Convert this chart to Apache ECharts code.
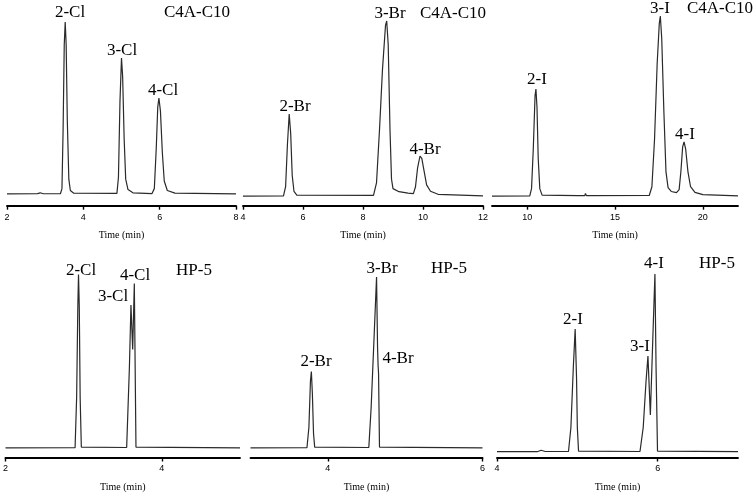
<!DOCTYPE html>
<html>
<head>
<meta charset="utf-8">
<script src="https://cdn.jsdelivr.net/npm/echarts@6/dist/echarts.min.js"></script>
<style>html,body{margin:0;padding:0;background:#fff}#c{width:756px;height:496px}</style>
</head>
<body>
<div id="c"></div>
<script>
// ---- data (time in min, relative signal) ----
var clC4A = [[2.0,6.2],[2.8,6.4],[2.87,6.8],[2.95,6.3],[3.40,6.3],[3.44,9],[3.47,40],[3.50,85],[3.525,96.8],[3.55,85],[3.58,45],[3.62,14],[3.66,8],[3.75,6.6],[4.88,6.5],[4.92,15],[4.96,55],[5.0,77.9],[5.03,68],[5.07,35],[5.11,14],[5.17,8.5],[5.3,6.8],[5.8,6.4],[5.86,9],[5.91,30],[5.95,52],[5.98,56.8],[6.02,50],[6.07,28],[6.12,13],[6.2,8],[6.4,6.6],[8.0,6.2]];
var brC4A = [[4.0,5.1],[5.35,5.2],[5.42,10],[5.48,32],[5.54,48.3],[5.59,38],[5.64,16],[5.70,7.5],[5.8,5.5],[8.35,5.4],[8.45,12],[8.55,40],[8.65,72],[8.75,95],[8.79,97.4],[8.84,85],[8.9,40],[8.95,14],[9.0,9],[9.2,7.4],[9.5,6.6],[9.68,6.4],[9.75,10],[9.82,20],[9.9,26.2],[9.96,25],[10.04,18],[10.12,11],[10.25,7.6],[10.5,6],[12.0,5.2]];
var iC4A = [[8.0,5.1],[10.15,5.2],[10.25,9],[10.35,30],[10.45,58],[10.5,61.5],[10.56,52],[10.63,25],[10.72,9],[10.85,5.6],[12.9,5.3],[12.97,6.3],[13.02,5.3],[13.28,5.3],[13.32,6.5],[13.37,5.3],[16.95,5.4],[17.1,10],[17.25,35],[17.4,75],[17.52,96],[17.58,100],[17.66,88],[17.78,50],[17.9,18],[18.02,9.5],[18.2,7.5],[18.5,6.9],[18.65,8.5],[18.75,18],[18.85,31],[18.93,33.6],[19.02,30],[19.15,18],[19.3,10],[19.55,7],[20.0,5.8],[22.0,5.2]];
var clHP5 = [[2.0,4.8],[2.89,4.9],[2.91,30],[2.925,75],[2.934,91.5],[2.944,75],[2.955,30],[2.97,5.2],[3.55,5.0],[3.564,5.2],[3.585,45],[3.605,76.3],[3.627,54],[3.648,87],[3.66,40],[3.669,5.2],[5.0,4.8]];
var brHP5 = [[3.0,4.8],[3.73,4.9],[3.755,15],[3.775,38],[3.787,43],[3.80,32],[3.815,12],[3.83,5.2],[4.53,5],[4.56,25],[4.60,62],[4.63,90.2],[4.643,55],[4.65,46],[4.656,42],[4.668,5.2],[6.0,4.8]];
var iHP5 = [[4.0,2.9],[4.5,2.9],[4.55,3.6],[4.6,3.0],[4.89,3.0],[4.92,15],[4.95,45],[4.973,64.2],[4.99,40],[5.0,15],[5.015,3.2],[5.78,3.0],[5.82,15],[5.855,38],[5.879,50.7],[5.909,21.2],[5.94,60],[5.966,91.7],[5.98,45],[5.998,3.2],[7.0,2.9]];

var xRanges = [[2,8],[4,12],[8,22],[2,5],[3,6],[4,7]];
var xTicks = [[2,4,6,8],[4,6,8,10,12],[10,15,20],[2,4],[4,6],[4,6]];
var traces = [clC4A, brC4A, iC4A, clHP5, brHP5, iHP5];
var xName = 'Time (min)';

var peakLabels = [
  ['2-Cl',70,13],['3-Cl',122,51],['4-Cl',163,91],['C4A-C10',197,13],
  ['2-Br',295,107],['3-Br',390,14],['4-Br',425,150],['C4A-C10',453,14],
  ['2-I',537,80],['3-I',660,9],['4-I',685,135],['C4A-C10',720,9],
  ['2-Cl',81,271],['4-Cl',135,276],['3-Cl',113,297],['HP-5',194,271],
  ['2-Br',316,362],['3-Br',382,269],['4-Br',398,359],['HP-5',449,269],
  ['2-I',573,320],['3-I',640,347],['4-I',654,264],['HP-5',717,264]
];

// ---- layout ----
var grids = [
  {left:7, width:229, top:16, bottom:290.3},
  {left:243, width:240, top:16, bottom:290.3},
  {left:492, width:246, top:16, bottom:290.3},
  {left:4, width:236, top:257.5, bottom:38.5},
  {left:250.5, width:232, top:257.5, bottom:38.5},
  {left:497, width:241, top:257.5, bottom:38.5}
];

var xAxes = [], yAxes = [], series = [];
for (var i = 0; i < 6; i++) {
  xAxes.push({
    type:'value', gridIndex:i, min:xRanges[i][0], max:xRanges[i][1], position:'bottom',
    axisLine:{show:true, onZero:false, lineStyle:{color:'#000', width:1.8}},
    axisTick:{show:true, customValues:xTicks[i], length:4, inside:false, lineStyle:{color:'#000', width:1.4}},
    axisLabel:{customValues:xTicks[i], fontSize:9, fontFamily:'Liberation Sans', color:'#000', margin:7},
    splitLine:{show:false},
    name:xName, nameLocation:'middle', nameGap:25,
    nameTextStyle:{fontFamily:'Liberation Serif', fontSize:10, color:'#000'}
  });
  yAxes.push({type:'value', gridIndex:i, min:0, max:100, show:false});
  series.push({
    type:'line', xAxisIndex:i, yAxisIndex:i, data:traces[i], symbol:'none',
    lineStyle:{color:'#2a2a2a', width:1.2}, animation:false, silent:true
  });
}

var graphic = peakLabels.map(function(p){
  return {type:'text', x:p[1], y:p[2], style:{text:p[0], font:'17px "Liberation Serif"', fill:'#000', textAlign:'center', textVerticalAlign:'middle'}};
});

var chart = echarts.init(document.getElementById('c'), null, {renderer:'canvas'});
chart.setOption({
  backgroundColor:'#fff', animation:false,
  grid:grids, xAxis:xAxes, yAxis:yAxes, series:series, graphic:graphic
});
</script>
</body>
</html>
